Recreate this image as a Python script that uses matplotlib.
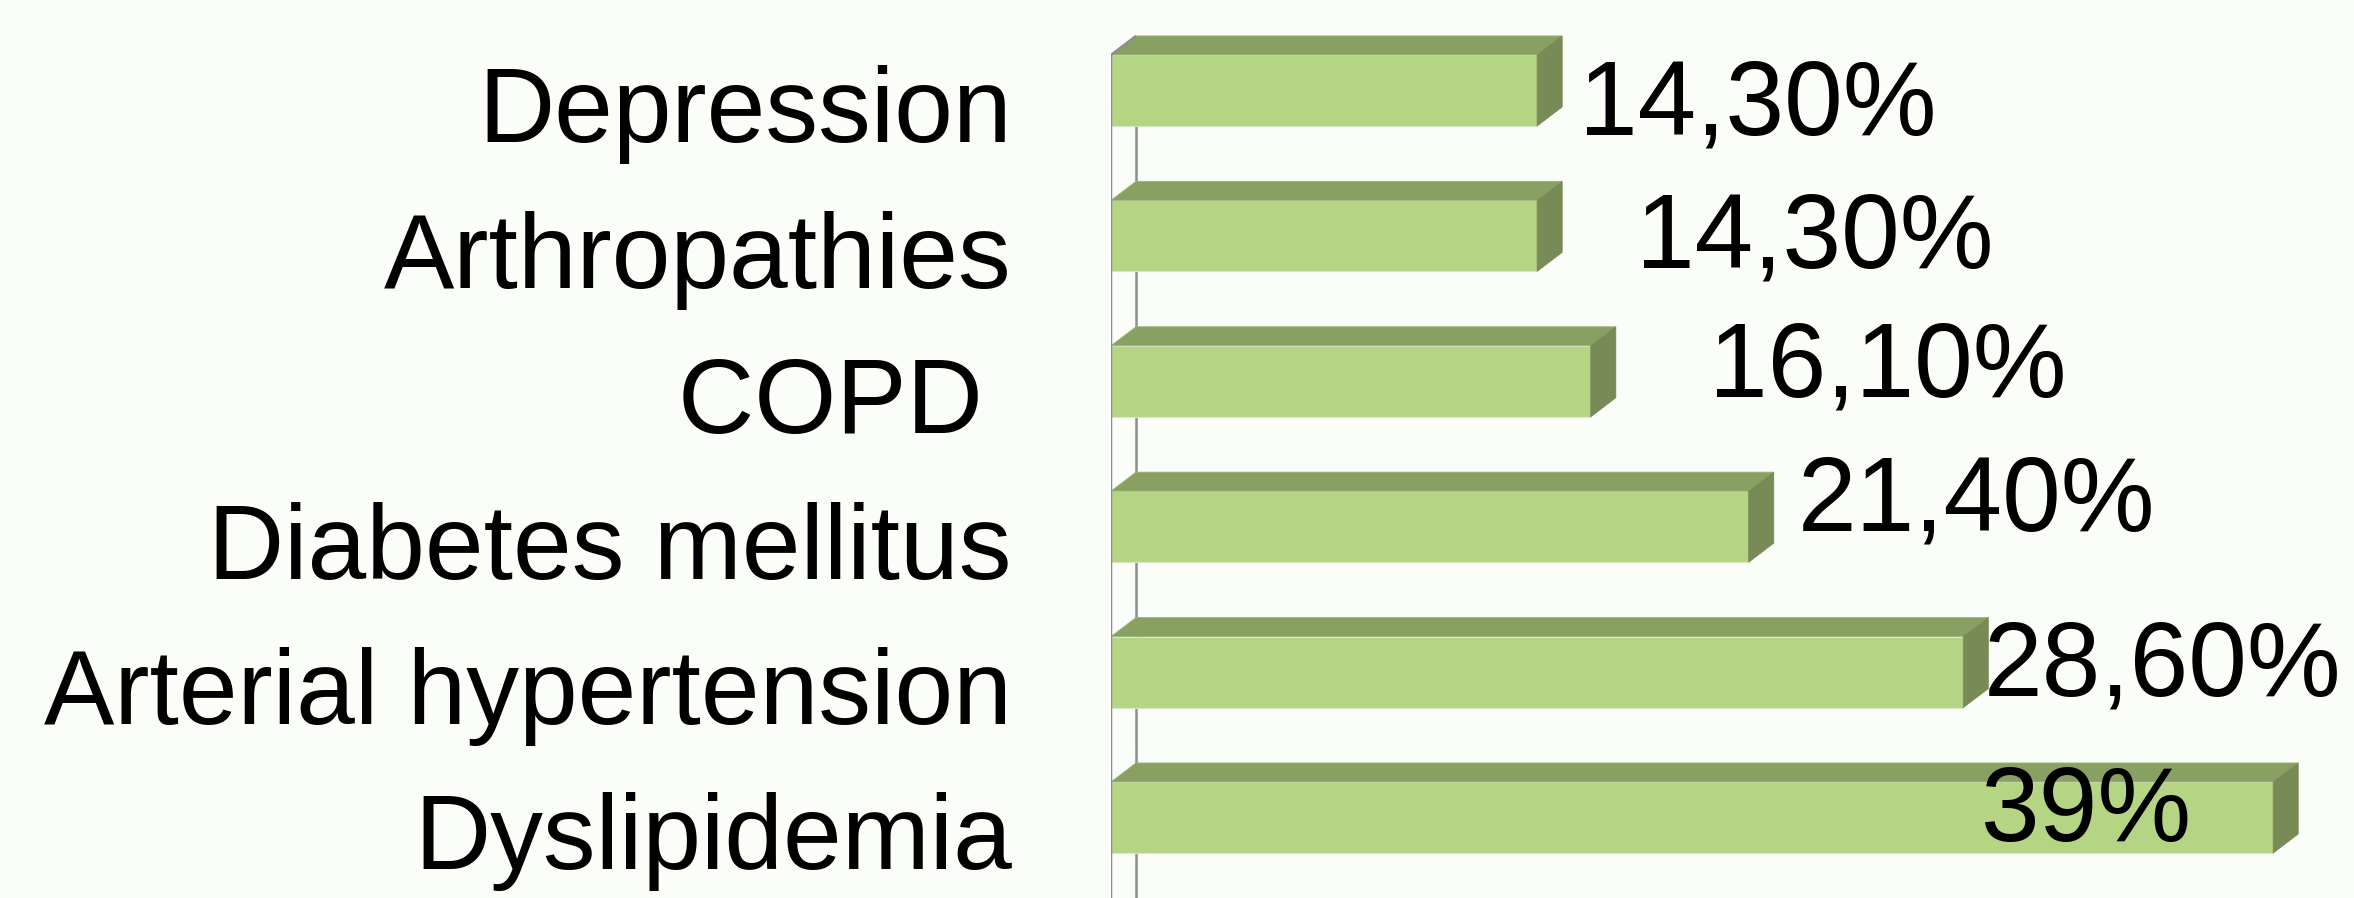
"""Comorbidities as 3D-style horizontal bars (share of patients, %)."""
import matplotlib.pyplot as plt
from matplotlib.patches import Polygon

categories = ["Dyslipidemia", "Arterial hypertension", "Diabetes mellitus",
              "COPD ", "Arthropathies", "Depression"]
values = [39.0, 28.6, 21.4, 16.1, 14.3, 14.3]
value_labels = ["39%", "28,60%", "21,40%", "16,10%", "14,30%", "14,30%"]

# hand-placed value labels: pixel offset from the front-right corner / bar centre
LABEL_OFFSETS = [(-292, -24), (20, -23), (49, -4), (118, -15), (99, -32), (42, -44)]

BG = "#FBFDF8"
FRONT = "#B5D584"
TOP = "#89A063"
SIDE = "#788A55"
AXIS = "#8E8E8E"
DEPTH_PX = (25, 19)
FONT = "Liberation Sans"
FS = 76

W, H, DPI = 2354, 898, 100
fig = plt.figure(figsize=(W / DPI, H / DPI), dpi=DPI, facecolor=BG)
x0 = 1111 / W
ax = fig.add_axes([x0, 0, 1 - x0, 1])
ax.set_facecolor(BG)
ax.set_xlim(0, (W - 1111) / 29.8)
ax.set_ylim(-0.554, 5.622)
ax.axis("off")

# depth of the fake 3D extrusion, in data units
px_x = (W - 1111) / (ax.get_xlim()[1] - ax.get_xlim()[0])
px_y = H / (ax.get_ylim()[1] - ax.get_ylim()[0])
ddx, ddy = DEPTH_PX[0] / px_x, DEPTH_PX[1] / px_y
bh = 71 / px_y

ys = list(range(len(categories)))
top_y = ys[-1] + bh / 2
bottom = ax.get_ylim()[0]

# back wall edge
ax.plot([ddx, ddx], [bottom, top_y + ddy], color=AXIS, lw=1.8, zorder=1,
        solid_capstyle="butt")

ax.barh(ys, values, height=bh, color=FRONT, edgecolor="#D7E8C2", linewidth=0.8,
        zorder=3)
for y, v in zip(ys, values):
    t, b = y + bh / 2, y - bh / 2
    ax.add_patch(Polygon([(0, t), (v, t), (v + ddx, t + ddy), (ddx, t + ddy)],
                         closed=True, facecolor=TOP, edgecolor="#9DB47A",
                         linewidth=0.6, zorder=3))
    ax.add_patch(Polygon([(v, b), (v, t), (v + ddx, t + ddy), (v + ddx, b + ddy)],
                         closed=True, facecolor=SIDE, edgecolor=SIDE,
                         linewidth=0.6, zorder=3))

# front axis line with its corner edge
ax.plot([0, 0, ddx], [bottom, top_y, top_y + ddy], color=AXIS, lw=1.8, zorder=4,
        solid_capstyle="butt")

for y, name in zip(ys, categories):
    ax.annotate(name, xy=(0, y), xytext=(-99, -52), textcoords="offset pixels",
                ha="right", va="baseline", fontsize=FS, family=FONT,
                color="black", annotation_clip=False)

for y, v, lab, (ox, oy) in zip(ys, values, value_labels, LABEL_OFFSETS):
    ax.annotate(lab, xy=(v, y), xytext=(ox, oy), textcoords="offset pixels",
                ha="left", va="baseline", fontsize=FS, family=FONT,
                color="black", zorder=5, annotation_clip=False)

fig.savefig("out.png", dpi=DPI, facecolor=BG)
